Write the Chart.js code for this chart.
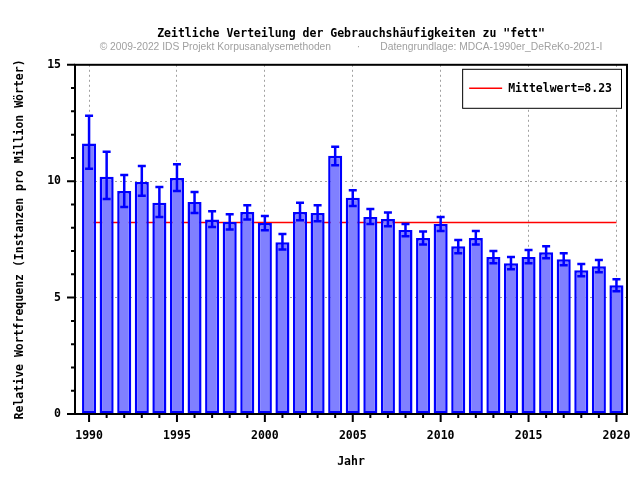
<!DOCTYPE html>
<html>
<head>
<meta charset="utf-8">
<script src="https://cdn.jsdelivr.net/npm/chart.js@4"></script>
<style>
  body { margin: 0; background: #fff; }
  #box { width: 640px; height: 480px; }
</style>
</head>
<body>
<div id="box"><canvas id="grafico" width="640" height="480"></canvas></div>
<script>
    // dados
    const anos = [1990, 1991, 1992, 1993, 1994, 1995, 1996, 1997, 1998, 1999, 2000,
        2001, 2002, 2003, 2004, 2005, 2006, 2007, 2008, 2009, 2010,
        2011, 2012, 2013, 2014, 2015, 2016, 2017, 2018, 2019, 2020];
    const frequencia = [11.62, 10.19, 9.58, 9.97, 9.07, 10.14, 9.11, 8.36, 8.25, 8.68, 8.20,
        7.38, 8.68, 8.63, 11.09, 9.29, 8.46, 8.38, 7.90, 7.56, 8.16,
        7.21, 7.56, 6.74, 6.48, 6.74, 6.95, 6.65, 6.18, 6.35, 5.53];
    const erroAlto = [12.81, 11.26, 10.27, 10.65, 9.75, 10.73, 9.54, 8.71, 8.58, 8.97, 8.51,
        7.73, 9.07, 8.97, 11.48, 9.61, 8.81, 8.66, 8.16, 7.84, 8.46,
        7.47, 7.86, 7.00, 6.74, 7.04, 7.21, 6.91, 6.44, 6.61, 5.79];
    const erroBaixo = [10.53, 9.24, 8.89, 9.37, 8.46, 9.58, 8.63, 8.03, 7.93, 8.36, 7.89,
        7.07, 8.32, 8.28, 10.69, 8.94, 8.16, 8.07, 7.64, 7.28, 7.86,
        6.91, 7.28, 6.48, 6.22, 6.48, 6.69, 6.39, 5.92, 6.09, 5.27];
    const mediaX = [1990, 2020];
    const mediaY = [8.23, 8.23];
    const ticksY = [0, 5, 10, 15];

    const mono = "'DejaVu Sans Mono', 'Liberation Mono', monospace";
    const azul = '#0000ff';

    // barras de erro (desenhadas com as escalas do chart)
    const pluginErro = {
        id: 'erro',
        afterDatasetsDraw(chart) {
            const ctx = chart.ctx;
            const x = chart.scales.x, y = chart.scales.y;
            ctx.save();
            ctx.strokeStyle = azul;
            ctx.lineWidth = 2.5;
            for (let i = 0; i < anos.length; i++) {
                const px = x.getPixelForValue(anos[i]);
                const pa = y.getPixelForValue(erroAlto[i]);
                const pb = y.getPixelForValue(erroBaixo[i]);
                ctx.beginPath();
                ctx.moveTo(px, pa); ctx.lineTo(px, pb);
                ctx.moveTo(px - 4, pa); ctx.lineTo(px + 4, pa);
                ctx.moveTo(px - 4, pb); ctx.lineTo(px + 4, pb);
                ctx.stroke();
            }
            ctx.restore();
        }
    };

    // moldura, tracinhos dos eixos e legenda
    const pluginMoldura = {
        id: 'moldura',
        afterDraw(chart) {
            const ctx = chart.ctx;
            const a = chart.chartArea;
            const x = chart.scales.x, y = chart.scales.y;
            ctx.save();
            ctx.strokeStyle = '#000';
            ctx.lineWidth = 2;
            ctx.strokeRect(a.left, a.top, a.right - a.left, a.bottom - a.top);

            ctx.beginPath();
            for (let v = 0; v <= 15; v++) {
                const py = y.getPixelForValue(v);
                const len = v % 5 === 0 ? 8 : 4;
                ctx.moveTo(a.left - len, py); ctx.lineTo(a.left, py);
            }
            anos.forEach(ano => {
                const px = x.getPixelForValue(ano);
                const len = ano % 5 === 0 ? 8 : 4;
                ctx.moveTo(px, a.bottom); ctx.lineTo(px, a.bottom + len);
            });
            ctx.stroke();

            // legenda
            const ds = chart.data.datasets[1];
            ctx.font = 'bold 11.5px ' + mono;
            const tw = ctx.measureText(ds.label).width;
            const w = tw + 55, h = 39;
            const bx = a.right - 6 - w, by = a.top + 4;
            ctx.fillStyle = '#fff';
            ctx.fillRect(bx, by, w, h);
            ctx.lineWidth = 1;
            ctx.strokeRect(bx + 0.5, by + 0.5, w, h);
            ctx.strokeStyle = ds.borderColor;
            ctx.lineWidth = 1.5;
            ctx.beginPath();
            ctx.moveTo(bx + 7, by + h / 2); ctx.lineTo(bx + 40, by + h / 2);
            ctx.stroke();
            ctx.fillStyle = '#000';
            ctx.textBaseline = 'middle';
            ctx.fillText(ds.label, bx + 46, by + h / 2 + 1);
            ctx.restore();
        }
    };

    const config = {
        type: 'bar',
        data: {
            datasets: [{
                type: 'bar',
                label: 'Jahr',
                data: anos.map((a, i) => ({ x: a, y: frequencia[i] })),
                backgroundColor: '#8080ff',
                borderColor: azul,
                borderWidth: 2.5,
                borderSkipped: false,
                barPercentage: 0.8,
                categoryPercentage: 1,
                order: 1
            }, {
                type: 'line',
                label: 'Mittelwert=' + mediaY[0].toFixed(2),
                data: mediaX.map((a, i) => ({ x: a, y: mediaY[i] })),
                borderColor: '#ff0000',
                borderWidth: 1.5,
                pointRadius: 0,
                order: 2
            }]
        },
        options: {
            responsive: false,
            animation: false,
            layout: { padding: { left: 0, right: 13, top: 0, bottom: 0 } },
            plugins: {
                legend: { display: false },
                tooltip: { enabled: false },
                title: {
                    display: true,
                    fullSize: false,
                    text: 'Zeitliche Verteilung der Gebrauchshäufigkeiten zu "fett"',
                    color: '#000',
                    font: { family: mono, size: 11.5, weight: 'bold', lineHeight: 1 },
                    padding: { top: 28, bottom: 1 }
                },
                subtitle: {
                    display: true,
                    fullSize: false,
                    text: '© 2009-2022 IDS Projekt Korpusanalysemethoden         ·       Datengrundlage: MDCA-1990er_DeReKo-2021-I',
                    color: '#a0a0a0',
                    font: { family: "'Liberation Sans', Arial, sans-serif", size: 10.3, lineHeight: 1 },
                    padding: { top: 2, bottom: 12 }
                }
            },
            scales: {
                x: {
                    type: 'linear',
                    min: 1989.2,
                    max: 2020.6,
                    offset: false,
                    afterBuildTicks: s => { s.ticks = anos.map(v => ({ value: v })); },
                    afterFit: s => { s.height = 66; s.paddingLeft = 0; s.paddingRight = 0; },
                    ticks: {
                        autoSkip: false,
                        maxRotation: 0,
                        padding: 16,
                        color: '#000',
                        font: { family: mono, size: 11.5, weight: 'bold', lineHeight: 1 },
                        callback: v => v % 5 === 0 ? String(v) : ''
                    },
                    grid: {
                        offset: false,
                        drawTicks: false,
                        color: c => (c.tick && c.tick.value % 5 === 0) ? '#a0a0a0' : 'rgba(0,0,0,0)',
                        lineWidth: 1
                    },
                    border: { display: false, dash: [2, 3] },
                    title: {
                        display: true,
                        text: 'Jahr',
                        color: '#000',
                        font: { family: mono, size: 11.5, weight: 'bold', lineHeight: 1 },
                        padding: { top: 0, bottom: 12 }
                    }
                },
                y: {
                    min: 0,
                    max: 15,
                    afterBuildTicks: s => {
                        let t = [];
                        for (let v = 0; v <= 15; v++) t.push({ value: v });
                        s.ticks = t;
                    },
                    afterFit: s => { s.width = 75; s.paddingTop = 0; s.paddingBottom = 0; },
                    ticks: {
                        autoSkip: false,
                        padding: 14,
                        color: '#000',
                        font: { family: mono, size: 11.5, weight: 'bold', lineHeight: 1 },
                        callback: v => ticksY.includes(v) ? String(v) : ''
                    },
                    grid: {
                        drawTicks: false,
                        color: c => (c.tick && c.tick.value % 5 === 0 && c.tick.value > 0) ? '#a0a0a0' : 'rgba(0,0,0,0)',
                        lineWidth: 1
                    },
                    border: { display: false, dash: [2, 3] },
                    title: {
                        display: true,
                        text: 'Relative Wortfrequenz (Instanzen pro Million Wörter)',
                        color: '#000',
                        font: { family: mono, size: 11.5, weight: 'bold', lineHeight: 1 },
                        padding: { top: 14, bottom: 0 }
                    }
                }
            }
        },
        plugins: [pluginErro, pluginMoldura]
    };

    let myChart = new Chart(document.getElementById('grafico'), config);
</script>
</body>
</html>
